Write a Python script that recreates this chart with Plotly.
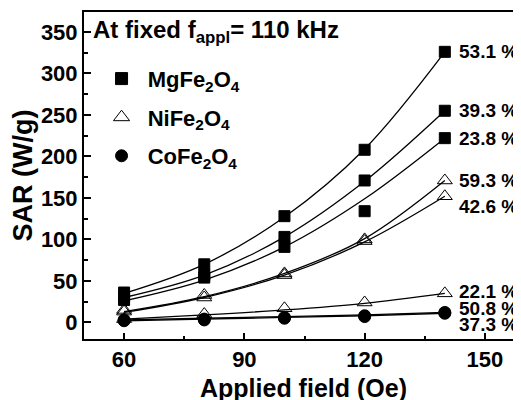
import plotly.graph_objects as go

field = [60, 80, 100, 120, 140]

# measured points
mg_531 = [36, 70, 128, 208, 326]
mg_393 = [31, 57, 103, 171, 255]
mg_238 = [27, 54, 91, 134, 222]
ni_593 = [15, 33, 59, 100, 171]
ni_426 = [13, 30, 57, 98, 152]
ni_221 = [4, 10, 17, 24, 35]
co_508 = [3, 4, 6, 8, 12]
co_373 = [2, 3, 5, 7, 11]

# fitted curve values read at the same fields
fit_mg_531 = [35, 70, 127, 209, 326]
fit_mg_393 = [30, 57, 103, 170, 255]
fit_mg_238 = [26, 51, 91, 149, 222]
fit_ni_593 = [13, 31, 59, 101, 171]
fit_ni_426 = [12, 30, 57, 97, 152]
fit_ni_221 = [4, 9, 15, 23, 35]
fit_co_508 = [3, 5, 7, 9, 12]
fit_co_373 = [2, 4, 6, 8, 11]

pct_labels = ["53.1 %", "39.3 %", "23.8 %", "59.3 %", "42.6 %", "22.1 %", "50.8 %", "37.3 %"]
pct_label_y = [327, 255, 221, 171, 140, 37, 17, -2]

legend_names = ["&nbsp;MgFe<sub>2</sub>O<sub>4</sub>", "&nbsp;NiFe<sub>2</sub>O<sub>4</sub>", "&nbsp;CoFe<sub>2</sub>O<sub>4</sub>"]

FONT = "Liberation Sans, Arial, sans-serif"

fig = go.Figure()

series = [
    (mg_531, fit_mg_531, "square"),
    (mg_393, fit_mg_393, "square"),
    (mg_238, fit_mg_238, "square"),
    (ni_593, fit_ni_593, "triangle-up-open"),
    (ni_426, fit_ni_426, "triangle-up-open"),
    (ni_221, fit_ni_221, "triangle-up-open"),
    (co_508, fit_co_508, "circle"),
    (co_373, fit_co_373, "circle"),
]

for vals, fit, sym in series:
    fig.add_trace(go.Scatter(x=field, y=fit, mode="lines",
                             line=dict(color="black", width=1.3, shape="spline", smoothing=1.0),
                             showlegend=False, hoverinfo="skip"))

for vals, fit, sym in series:
    size = 11 if sym == "square" else (13 if sym.startswith("triangle") else 12)
    fig.add_trace(go.Scatter(x=field, y=vals, mode="markers",
                             marker=dict(symbol=sym, size=size, color="black",
                                         line=dict(color="black", width=1)),
                             showlegend=False))

# legend entries
for name, sym in zip(legend_names, ["square", "triangle-up-open", "circle"]):
    fig.add_trace(go.Scatter(x=[None], y=[None], mode="markers", name=name,
                             marker=dict(symbol=sym, size=12 if sym != "triangle-up-open" else 14,
                                         color="black", line=dict(color="black", width=1)),
                             legendgroup=name))

for txt, yv in zip(pct_labels, pct_label_y):
    fig.add_annotation(x=143.0, y=yv, text=txt, showarrow=False, xanchor="left", yanchor="middle",
                       font=dict(family=FONT, size=19, color="black", weight="bold"))

fig.add_annotation(xref="paper", yref="paper", x=0.015, y=0.94, xanchor="left", yanchor="middle",
                   text="At fixed f<sub>appl</sub>= 110 kHz", showarrow=False,
                   font=dict(family=FONT, size=24, color="black", weight="bold"))

fig.update_layout(
    width=521, height=400,
    margin=dict(l=76, r=6, t=4, b=69),
    plot_bgcolor="white", paper_bgcolor="white",
    font=dict(family=FONT, color="black", weight="bold"),
    showlegend=True,
    legend=dict(x=0.04, y=0.86, xanchor="left", yanchor="top",
                font=dict(family=FONT, size=22, color="black", weight="bold"),
                bgcolor="rgba(0,0,0,0)", tracegroupgap=7, itemwidth=30),
    xaxis=dict(range=[50, 159.5], tickvals=[60, 90, 120, 150], showgrid=False, zeroline=False,
               automargin=False,
               showline=True, linecolor="black", linewidth=2, mirror=True,
               ticks="inside", ticklen=6, tickwidth=2, tickcolor="black",
               minor=dict(tickvals=[75, 105, 135], ticks="inside", ticklen=3, tickwidth=2, tickcolor="black"),
               tickfont=dict(family=FONT, size=22, color="black", weight="bold"),
               title=dict(text="Applied field (Oe)", font=dict(family=FONT, size=25, color="black", weight="bold"),
                          standoff=8)),
    yaxis=dict(range=[-20, 374], tickvals=[0, 50, 100, 150, 200, 250, 300, 350], showgrid=False, zeroline=False,
               automargin=False,
               showline=True, linecolor="black", linewidth=2, mirror=False,
               ticks="inside", ticklen=7, tickwidth=2, tickcolor="black",
               minor=dict(tickvals=[25, 75, 125, 175, 225, 275, 325], ticks="inside", ticklen=3.5, tickwidth=2, tickcolor="black"),
               tickfont=dict(family=FONT, size=22, color="black", weight="bold"),
               title=dict(text="SAR (W/g)", font=dict(family=FONT, size=27, color="black", weight="bold"),
                          standoff=6)),
)

fig.write_html("out.html")
